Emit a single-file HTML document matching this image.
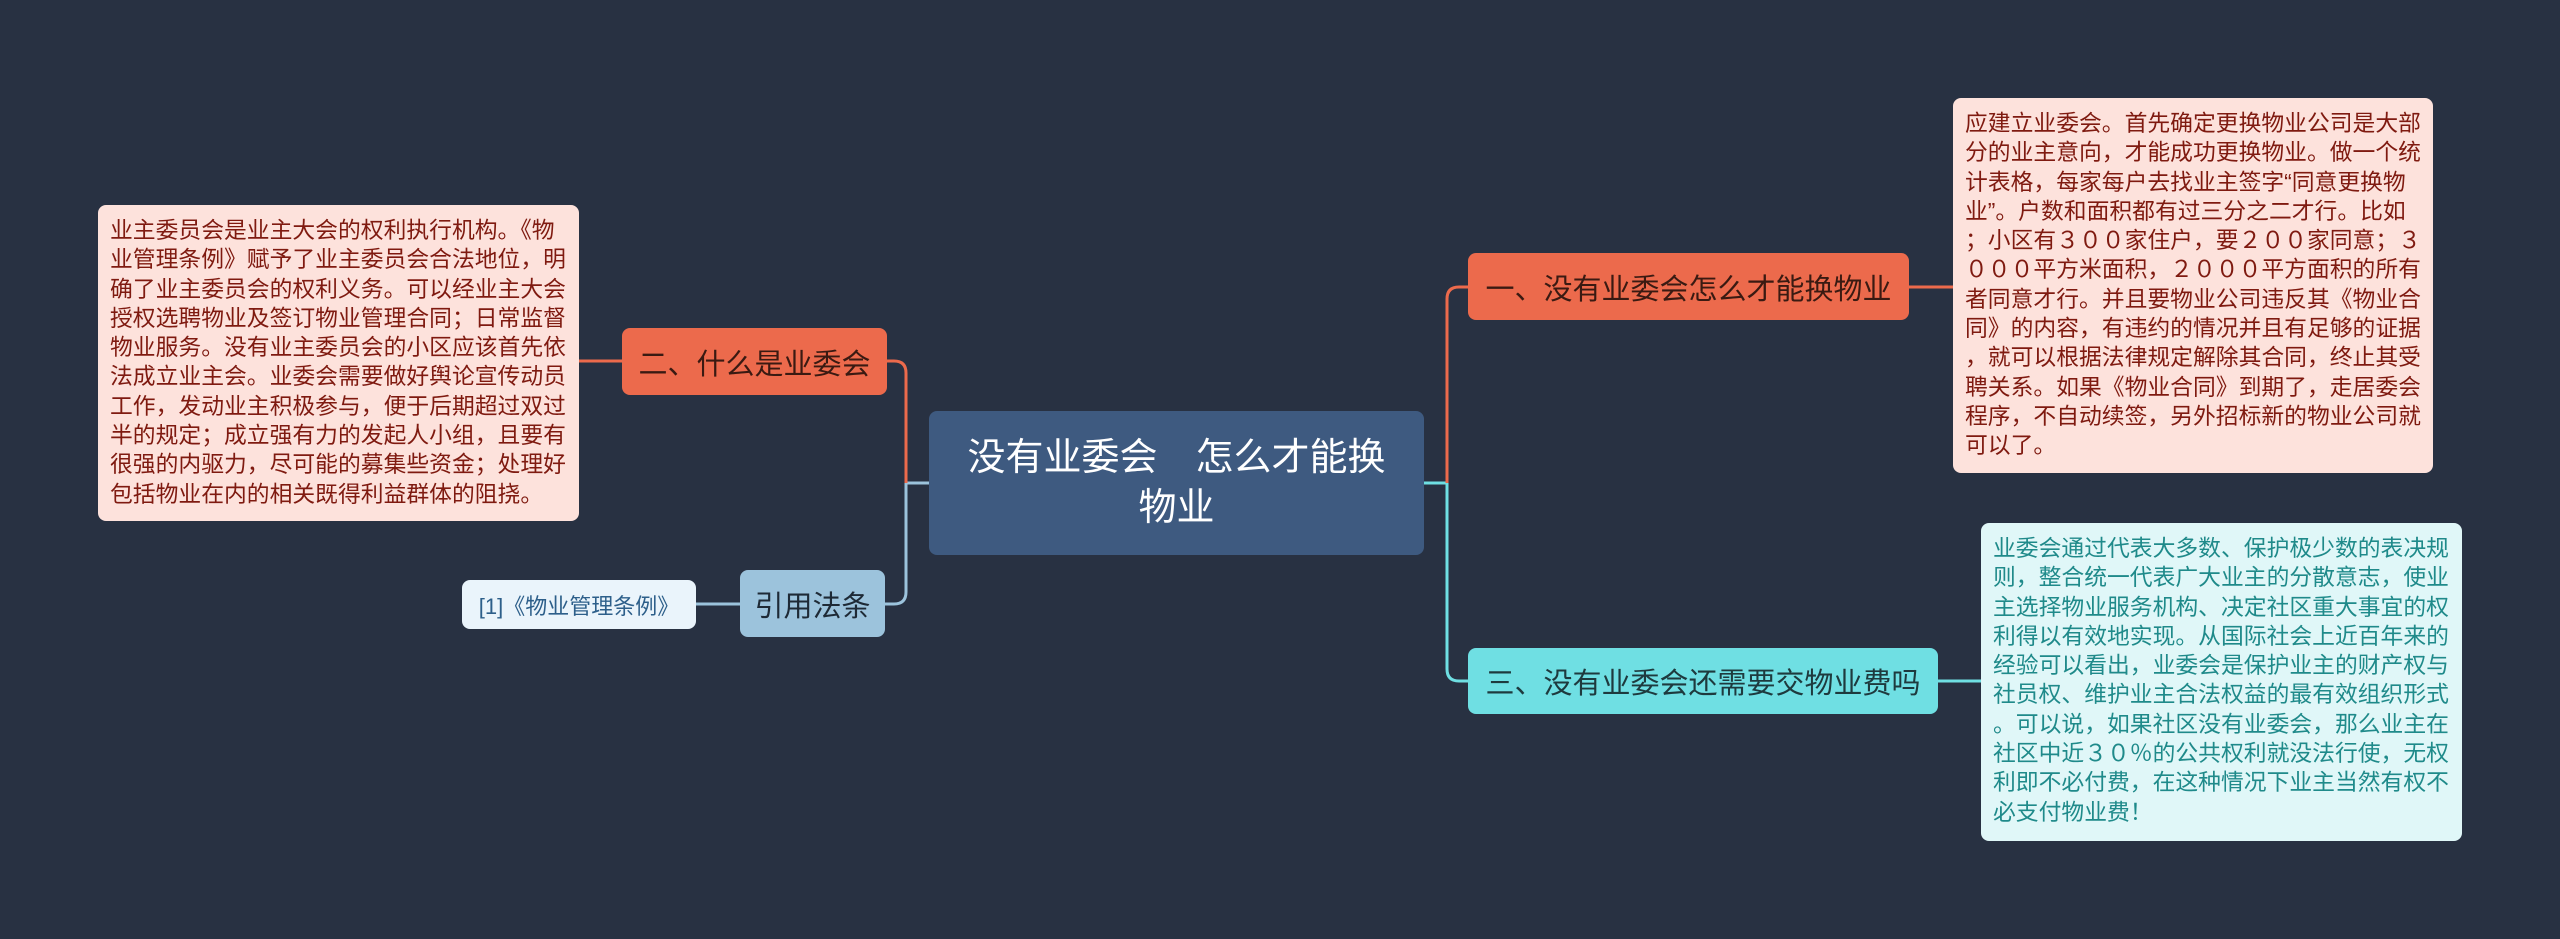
<!DOCTYPE html>
<html><head><meta charset="utf-8"><style>
html,body{margin:0;padding:0;}
body{width:2560px;height:939px;background:#283142;position:relative;overflow:hidden;font-family:"Liberation Sans","Noto Sans CJK SC",sans-serif;}
.b{position:absolute;box-sizing:border-box;border-radius:8px;white-space:nowrap;}
.t{font-size:22.8px;line-height:29.3px;padding:11px 12px;}
.n{display:flex;align-items:center;justify-content:center;font-size:29px;}
</style></head><body>
<svg width="2560" height="939" style="position:absolute;left:0;top:0" fill="none" stroke-width="3">
<path d="M1424 483 H1447" stroke="#6fdfe3"/>
<path d="M1447 483 V299 Q1447 287 1459 287 H1468" stroke="#ec6a4c"/>
<path d="M1447 483 V669 Q1447 681 1459 681 H1468" stroke="#6fdfe3"/>
<path d="M1909 287 H1953" stroke="#ec6a4c"/>
<path d="M1938 681 H1981" stroke="#6fdfe3"/>
<path d="M929 483 H906" stroke="#9cc3dc"/>
<path d="M906 483 V373 Q906 361 894 361 H887" stroke="#ec6a4c"/>
<path d="M906 483 V592 Q906 604 894 604 H885" stroke="#9cc3dc"/>
<path d="M622 361 H578" stroke="#ec6a4c"/>
<path d="M740 604 H696" stroke="#9cc3dc"/>
</svg>

<div class="b t" style="left:98px;top:205px;width:481px;height:316px;background:#fde2dc;color:#7f1a10;">业主委员会是业主大会的权利执行机构。《物<br>业管理条例》赋予了业主委员会合法地位，明<br>确了业主委员会的权利义务。可以经业主大会<br>授权选聘物业及签订物业管理合同；日常监督<br>物业服务。没有业主委员会的小区应该首先依<br>法成立业主会。业委会需要做好舆论宣传动员<br>工作，发动业主积极参与，便于后期超过双过<br>半的规定；成立强有力的发起人小组，且要有<br>很强的内驱力，尽可能的募集些资金；处理好<br>包括物业在内的相关既得利益群体的阻挠。</div>

<div class="b n" style="left:622px;top:328px;width:265px;height:67px;background:#ec6a4c;color:#3a1a12;">二、什么是业委会</div>

<div class="b" style="left:929px;top:411px;width:495px;height:144px;background:#3e5a80;color:#fff;font-size:38px;line-height:50px;text-align:center;padding-top:22px;">没有业委会　怎么才能换<br>物业</div>

<div class="b n" style="left:740px;top:570px;width:145px;height:67px;background:#9cc3dc;color:#1e2a36;">引用法条</div>
<div class="b n" style="left:462px;top:580px;width:234px;height:49px;background:#eaf4fb;color:#2d5f8a;font-size:22px;">[1]《物业管理条例》</div>

<div class="b n" style="left:1468px;top:253px;width:441px;height:67px;background:#ec6a4c;color:#3a1a12;">一、没有业委会怎么才能换物业</div>
<div class="b n" style="left:1468px;top:648px;width:470px;height:66px;background:#6fdfe3;color:#1e3a3e;">三、没有业委会还需要交物业费吗</div>

<div class="b t" style="left:1953px;top:98px;width:480px;height:375px;background:#fde2dc;color:#7f1a10;">应建立业委会。首先确定更换物业公司是大部<br>分的业主意向，才能成功更换物业。做一个统<br>计表格，每家每户去找业主签字“同意更换物<br>业”。户数和面积都有过三分之二才行。比如<br>；小区有３００家住户，要２００家同意；３<br>０００平方米面积，２０００平方面积的所有<br>者同意才行。并且要物业公司违反其《物业合<br>同》的内容，有违约的情况并且有足够的证据<br>，就可以根据法律规定解除其合同，终止其受<br>聘关系。如果《物业合同》到期了，走居委会<br>程序，不自动续签，另外招标新的物业公司就<br>可以了。</div>

<div class="b t" style="left:1981px;top:523px;width:481px;height:318px;background:#e0f7f8;color:#1f8a8a;">业委会通过代表大多数、保护极少数的表决规<br>则，整合统一代表广大业主的分散意志，使业<br>主选择物业服务机构、决定社区重大事宜的权<br>利得以有效地实现。从国际社会上近百年来的<br>经验可以看出，业委会是保护业主的财产权与<br>社员权、维护业主合法权益的最有效组织形式<br>。可以说，如果社区没有业委会，那么业主在<br>社区中近３０％的公共权利就没法行使，无权<br>利即不必付费，在这种情况下业主当然有权不<br>必支付物业费！</div>
</body></html>
